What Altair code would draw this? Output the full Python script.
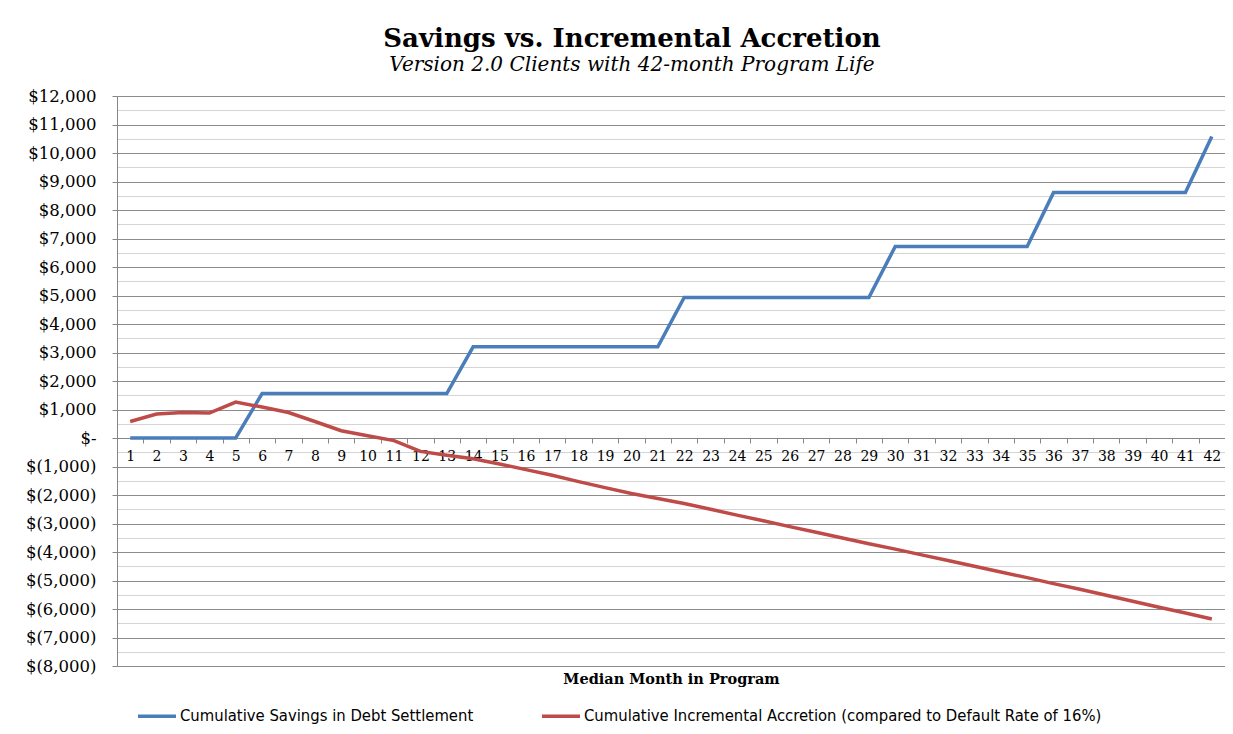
import altair as alt
import pandas as pd

months = list(range(1, 43))
savings = [0, 0, 0, 0, 0,
           1560, 1560, 1560, 1560, 1560, 1560, 1560, 1560,
           3200, 3200, 3200, 3200, 3200, 3200, 3200, 3200,
           4930, 4930, 4930, 4930, 4930, 4930, 4930, 4930,
           6720, 6720, 6720, 6720, 6720, 6720,
           8610, 8610, 8610, 8610, 8610, 8610,
           10580]
accretion = [580, 840, 895, 875, 1260, 1085, 895, 580, 255, 80,
             -90, -470, -605, -725, -910, -1110, -1310, -1530, -1740, -1950,
             -2120, -2300, -2500, -2705, -2905, -3110, -3310, -3510, -3710, -3900,
             -4100, -4300, -4500, -4700, -4900, -5110, -5310, -5520, -5730, -5940,
             -6140, -6350]
series_names = ["Cumulative Savings in Debt Settlement",
                "Cumulative Incremental Accretion (compared to Default Rate of 16%)"]
series_colors = ["#4A7EBB", "#BE4B48"]
y_ticks = list(range(-8000, 12001, 500))

rows = []
for m, s, a in zip(months, savings, accretion):
    rows.append({"month": m, "series": series_names[0], "value": s})
    rows.append({"month": m, "series": series_names[1], "value": a})
df = pd.DataFrame(rows)

serif = "DejaVu Serif"
narrow = "Liberation Sans Narrow, DejaVu Sans Condensed, Liberation Sans"

label_expr = (
    "datum.value % 1000 != 0 ? '' : "
    "datum.value == 0 ? '$-\u00a0\u00a0\u00a0' : "
    "datum.value > 0 ? '$' + format(datum.value, ',') + '\u00a0' : "
    "'$(' + format(-datum.value, ',') + ')'"
)

chart = alt.Chart(df).mark_line(strokeWidth=3.5).encode(
    x=alt.X("month:O",
            scale=alt.Scale(type="band", paddingInner=0, paddingOuter=0),
            axis=alt.Axis(title="Median Month in Program", labelAngle=0,
                          offset=-228, tickBand="extent", grid=False,
                          domainColor="#868686", tickColor="#868686", tickSize=5,
                          labelFont=serif, labelFontSize=14, labelColor="#000000",
                          labelPadding=6,
                          titleFont=serif, titleFontSize=14.5, titleFontWeight="bold",
                          titleColor="#000000", titleBaseline="alphabetic", titleY=245)),
    y=alt.Y("value:Q",
            scale=alt.Scale(domain=[-8000, 12000], nice=False, zero=False),
            axis=alt.Axis(title=None, values=y_ticks, labelExpr=label_expr,
                          grid=True,
                          gridColor={"condition": {"test": "datum.value % 1000 === 0", "value": "#8C8C8C"},
                                     "value": "#D4D4D4"},
                          gridWidth=1.2,
                          tickColor={"condition": {"test": "datum.value % 1000 === 0", "value": "#868686"},
                                     "value": "transparent"},
                          tickSize=5, domainColor="#868686",
                          labelFont=serif, labelFontSize=16.5, labelColor="#000000",
                          labelPadding=16)),
    color=alt.Color("series:N",
                    scale=alt.Scale(domain=series_names, range=series_colors),
                    sort=series_names,
                    legend=alt.Legend(title=None, orient="none", legendX=19, legendY=599,
                                      direction="horizontal", columns=2, columnPadding=61,
                                      symbolType="stroke", symbolSize=1444,
                                      symbolStrokeWidth=3.5, labelFont=narrow,
                                      labelFontSize=16.5, labelColor="#000000",
                                      labelOffset=2, labelLimit=0, padding=0)),
    order="month:Q",
).properties(
    width=1108,
    height=570,
    title=alt.TitleParams(
        text="Savings vs. Incremental Accretion",
        subtitle="Version 2.0 Clients with 42-month Program Life",
        font=serif, fontSize=26, fontWeight="bold", color="#000000",
        subtitleFont=serif, subtitleFontSize=20, subtitleFontStyle="italic",
        subtitleColor="#000000", anchor="middle", dx=-39, offset=13,
        subtitlePadding=3),
    autosize=alt.AutoSizeParams(type="none"),
    padding={"left": 109, "top": 88, "right": 0, "bottom": 60},
).configure_view(strokeWidth=0).configure(background="#FFFFFF")

chart.save("out.html", embed_options={"renderer": "svg", "actions": False})
